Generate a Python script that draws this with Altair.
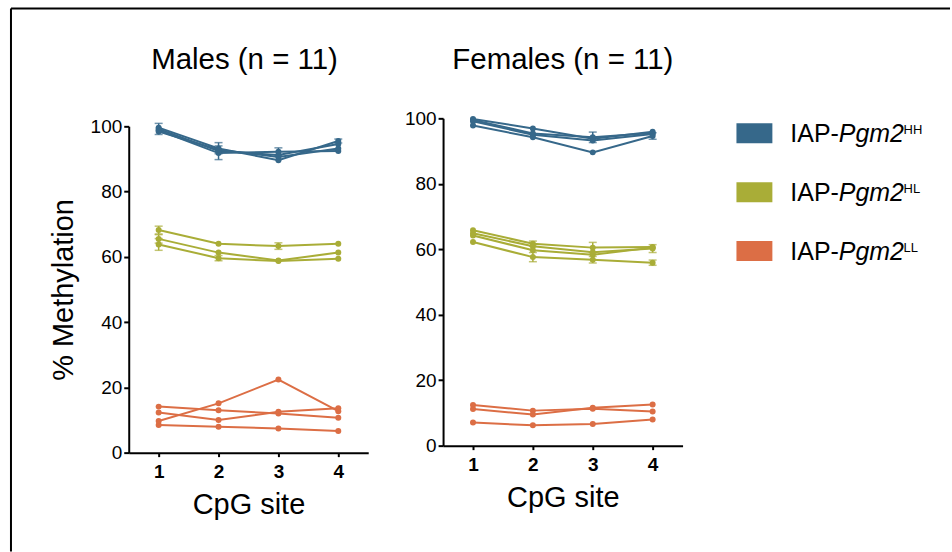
import altair as alt
import pandas as pd

# ---------------- data ----------------
sites = [1, 2, 3, 4]
groups = ["HH", "HL", "LL"]
colors = ["#36688A", "#A9AD37", "#DC6E45"]
y_ticks = [0, 20, 40, 60, 80, 100]

# Males (n = 11): individual animals, % methylation at CpG 1-4
male_HH = [
    [99.6, 93.2, 89.6, 95.5],
    [99.2, 92.4, 91.2, 94.6],
    [98.8, 91.8, 92.2, 92.4],
    [98.4, 92.8, 90.6, 93.2],
]
male_HH_err = [
    [0, 0, 0, 0.6],
    [1.7, 2.6, 0, 0],
    [0, 0, 1.2, 0],
    [0, 1.2, 0, 0],
]
male_HL = [
    [68.2, 64.0, 63.3, 64.0],
    [65.5, 61.3, 58.9, 61.3],
    [63.8, 59.6, 58.7, 59.4],
]
male_HL_err = [
    [1.2, 0, 1.0, 0],
    [1.3, 0, 0, 0],
    [1.8, 0.8, 0, 0],
]
male_LL = [
    [8.5, 7.9, 7.4, 6.6],
    [9.7, 15.1, 22.4, 12.7],
    [14.1, 13.0, 12.0, 10.7],
    [12.3, 10.0, 12.5, 13.6],
]
male_LL_err = [
    [0, 0, 0, 0],
    [0, 0, 0, 0],
    [0, 0, 0, 0],
    [0, 0, 0, 0],
]

# Females (n = 11)
female_HH = [
    [99.8, 96.9, 93.8, 95.9],
    [99.5, 95.4, 94.2, 95.5],
    [99.1, 95.0, 93.2, 95.2],
    [97.8, 94.2, 89.6, 94.6],
]
female_HH_err = [
    [0, 0, 0, 0],
    [0, 0, 1.6, 0],
    [0, 0, 0, 0],
    [0, 0, 0, 1.0],
]
female_HL = [
    [65.8, 61.7, 60.5, 60.7],
    [64.9, 60.9, 59.1, 60.2],
    [64.2, 59.7, 58.3, 60.5],
    [62.2, 57.6, 56.8, 55.9],
]
female_HL_err = [
    [0, 0.8, 1.6, 0],
    [0, 0, 0, 1.2],
    [0, 0, 0, 0],
    [0, 1.4, 1.0, 0.8],
]
female_LL = [
    [12.4, 10.7, 11.3, 10.4],
    [11.2, 9.5, 11.6, 12.6],
    [7.1, 6.2, 6.6, 8.0],
]
female_LL_err = [
    [0, 0, 0, 0],
    [0, 0, 0, 0],
    [0, 0, 0, 0],
]

legend_prefix = "IAP-"
legend_gene = "Pgm2"
FONT = "Liberation Sans"


def build(series):
    rows = []
    for g, (vals_list, errs_list) in series.items():
        for i, (vals, errs) in enumerate(zip(vals_list, errs_list)):
            for s, v, e in zip(sites, vals, errs):
                rows.append(dict(group=g, line=f"{g}-{i}", site=s, value=v, err=e))
    return pd.DataFrame(rows)


male_df = build({"HH": (male_HH, male_HH_err), "HL": (male_HL, male_HL_err),
                 "LL": (male_LL, male_LL_err)})
female_df = build({"HH": (female_HH, female_HH_err), "HL": (female_HL, female_HL_err),
                   "LL": (female_LL, female_LL_err)})

color = alt.Color("group:N", scale=alt.Scale(domain=groups, range=colors), legend=None)


def panel(df, title, title_offset, title_dx, height, yrange, show_ytitle):
    xscale = alt.Scale(domain=[0.5, 4.5], nice=False, zero=False)
    xaxis = alt.Axis(values=sites, format="d", title="CpG site", grid=False,
                     labelFontSize=19, labelFontWeight="bold", labelPadding=6,
                     tickSize=4, titleFontSize=29, titleFontWeight="normal",
                     titlePadding=9)
    if yrange is not None:
        yscale = alt.Scale(domain=[0, 100], nice=False, range=yrange)
    else:
        yscale = alt.Scale(domain=[0, 100], nice=False)
    if show_ytitle:
        yaxis = alt.Axis(values=y_ticks, title="% Methylation", grid=False,
                         labelFontSize=19, labelPadding=2, tickSize=5,
                         titleFontSize=29, titleFontWeight="normal", titlePadding=12)
    else:
        yaxis = alt.Axis(values=y_ticks, title=None, grid=False,
                         labelFontSize=19, labelPadding=2, tickSize=5)

    def X(f):
        return alt.X(f, type="quantitative", scale=xscale, axis=xaxis)

    def Y(f):
        return alt.Y(f, type="quantitative", scale=yscale, axis=yaxis)

    base = alt.Chart(df)
    lines = base.mark_line(strokeWidth=2).encode(
        x=X("site"), y=Y("value"), color=color, detail="line:N")
    errd = base.transform_filter("datum.err > 0").transform_calculate(
        lo="datum.value - datum.err", hi="datum.value + datum.err")
    rules = errd.mark_rule(strokeWidth=1.5).encode(
        x=X("site"), y=Y("lo"), y2="hi:Q", color=color)
    cap_lo = errd.mark_tick(orient="horizontal", size=8, thickness=1.5).encode(
        x=X("site"), y=Y("lo"), color=color)
    cap_hi = errd.mark_tick(orient="horizontal", size=8, thickness=1.5).encode(
        x=X("site"), y=Y("hi"), color=color)
    pts = base.mark_circle(size=36, opacity=1).encode(
        x=X("site"), y=Y("value"), color=color)
    return alt.layer(lines, rules, cap_lo, cap_hi, pts).properties(
        width=240, height=height,
        title=alt.TitleParams(title, fontSize=29.5, fontWeight="normal", anchor="middle",
                              frame="group", offset=title_offset, dx=title_dx,
                              font=FONT, color="black"))


males = panel(male_df, "Males (n = 11)", 42, -4, 327, None, True)
females = panel(female_df, "Females (n = 11)", 34, 0, 320, [320, -8], False)

# ---------------- legend (drawn as marks) ----------------
leg_df = pd.DataFrame({"group": groups, "sup": groups,
                       "prefix": [legend_prefix] * 3, "gene": [legend_gene] * 3})
ly = alt.Y("group:N", scale=alt.Scale(type="band", domain=groups, range=[-3, 135],
                                      paddingInner=0.661, paddingOuter=0), axis=None)
sw = alt.Chart(leg_df).mark_rect().encode(
    x=alt.value(-21), x2=alt.value(15), y=ly, color=color)
t1 = alt.Chart(leg_df).mark_text(align="left", baseline="alphabetic", dy=9,
                                 fontSize=25, font=FONT, color="black").encode(
    x=alt.value(33), y=ly, text="prefix:N")
t2 = alt.Chart(leg_df).mark_text(align="left", baseline="alphabetic", dy=9,
                                 fontSize=25, font=FONT, fontStyle="italic",
                                 color="black").encode(
    x=alt.value(81.6), y=ly, text="gene:N")
t3 = alt.Chart(leg_df).mark_text(align="left", baseline="alphabetic", dy=1,
                                 fontSize=13, font=FONT, color="black").encode(
    x=alt.value(146.5), y=ly, text="sup:N")

frame_df = pd.DataFrame({"k": [0]})
frame_v = alt.Chart(frame_df).mark_rule(color="black", strokeWidth=2).encode(
    x=alt.value(-748), y=alt.value(-118), y2=alt.value(426))
frame_h = alt.Chart(frame_df).mark_rule(color="black", strokeWidth=2).encode(
    y=alt.value(-118), x=alt.value(-748), x2=alt.value(193))

legend = alt.layer(sw, t1, t2, t3, frame_v, frame_h).properties(width=150, height=327)

chart = alt.hconcat(males, females, legend, spacing=75, bounds="flush").properties(
    padding={"left": 9, "top": 6, "right": 0, "bottom": 0}
).configure(font=FONT).configure_view(stroke="transparent").configure_axis(
    domainColor="black", tickColor="black", labelColor="black", titleColor="black",
    domainWidth=2, tickWidth=2, labelFont=FONT, titleFont=FONT)

chart.save("out.html", embed_options={"renderer": "svg", "actions": False})
